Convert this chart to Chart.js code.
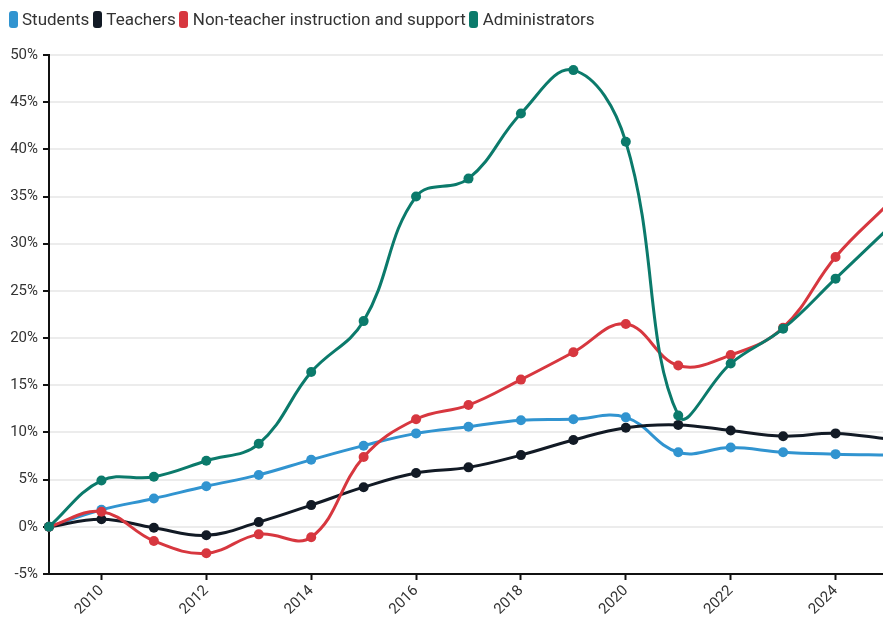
<!DOCTYPE html>
<html>
<head>
<meta charset="utf-8">
<script src="https://cdn.jsdelivr.net/npm/chart.js@4"></script>
<style>
    html, body { margin: 0; padding: 0; background: #fff; overflow: hidden; }
    /* the original is cropped a few px before 2025, so the canvas runs past the window */
    #wrap { position: relative; width: 893px; height: 619px; }
    #legend {
        position: absolute; top: 11px; left: 8.5px;
        display: flex; align-items: center;
        font-family: Roboto, sans-serif; font-size: 17px; color: #333;
        white-space: nowrap; line-height: 17px;
    }
    .item { display: flex; align-items: center; margin-right: 3.5px; }
    .box { width: 9px; height: 17px; border-radius: 3px; margin-right: 4.5px; }
</style>
</head>
<body>
<div id="wrap">
    <canvas id="growth-chart"></canvas>
    <div id="legend"></div>
</div>
<script>
// Years and % change since 2009
const years = [2009, 2010, 2011, 2012, 2013, 2014, 2015, 2016, 2017, 2018, 2019, 2020, 2021, 2022, 2023, 2024, 2025];
const students = [0, 1.8, 3.0, 4.3, 5.5, 7.1, 8.6, 9.9, 10.6, 11.3, 11.4, 11.6, 7.9, 8.4, 7.9, 7.7, 7.6];
const teachers = [0, 0.8, -0.1, -0.9, 0.5, 2.3, 4.2, 5.7, 6.3, 7.6, 9.2, 10.5, 10.8, 10.2, 9.6, 9.9, 9.3];
const nonTeacher = [0, 1.6, -1.5, -2.8, -0.8, -1.1, 7.4, 11.4, 12.9, 15.6, 18.5, 21.5, 17.1, 18.2, 21.1, 28.6, 34.2];
const administrators = [0, 4.9, 5.3, 7.0, 8.8, 16.4, 21.8, 35.0, 36.9, 43.8, 48.4, 40.8, 11.8, 17.3, 21.0, 26.3, 31.6];

const xTicks = [2010, 2012, 2014, 2016, 2018, 2020, 2022, 2024];
const yMin = -5, yMax = 50, yStep = 5;

Chart.defaults.font.family = "Roboto";
Chart.defaults.color = "#333";

function makeSeries(label, values, color, order) {
    return {
        label: label,
        data: years.map((y, i) => ({ x: y, y: values[i] })),
        borderColor: color,
        backgroundColor: color,
        borderWidth: 3,
        pointRadius: 5,
        pointHoverRadius: 5,
        pointBorderWidth: 0,
        tension: 0.4,
        order: order,
        clip: { left: 10, top: 10, bottom: 10, right: 0 }
    };
}

const datasets = [
    makeSeries("Students", students, "#3194d0", 4),
    makeSeries("Teachers", teachers, "#121a25", 3),
    makeSeries("Non-teacher instruction and support", nonTeacher, "#d7373f", 2),
    makeSeries("Administrators", administrators, "#0b7a6b", 1)
];

// html legend, tighter than the built-in one
const legend = document.getElementById("legend");
datasets.forEach(ds => {
    const item = document.createElement("div");
    item.className = "item";
    item.innerHTML = `<span class="box" style="background:${ds.borderColor}"></span><span>${ds.label}</span>`;
    legend.appendChild(item);
});

const noPadding = () => ({ left: 0, top: 0, right: 0, bottom: 0 });

const ctx = document.getElementById("growth-chart").getContext("2d");
new Chart(ctx, {
    type: "line",
    data: { datasets: datasets },
    options: {
        responsive: true,
        maintainAspectRatio: false,
        animation: false,
        layout: { padding: { top: 55, right: 0, left: 0, bottom: 0 } },
        plugins: {
            legend: { display: false },
            tooltip: { enabled: false }
        },
        scales: {
            x: {
                type: "linear",
                min: 2009,
                max: 2025,
                afterBuildTicks: axis => { axis.ticks = xTicks.map(v => ({ value: v })); },
                afterFit: axis => {
                    axis.height = 45;
                    axis.paddingLeft = 0;
                    axis.paddingRight = 0;
                    axis.getPadding = noPadding;
                },
                ticks: {
                    callback: v => String(v),
                    minRotation: 45,
                    maxRotation: 45,
                    padding: 2,
                    font: { size: 15 },
                    color: "#333"
                },
                grid: {
                    drawOnChartArea: false,
                    tickColor: "#111",
                    tickLength: 6,
                    tickWidth: 2
                },
                border: { color: "#111", width: 2 }
            },
            y: {
                min: yMin,
                max: yMax,
                afterFit: axis => { axis.width = 49; },
                ticks: {
                    stepSize: yStep,
                    callback: v => v + "%",
                    padding: 5,
                    font: { size: 15 },
                    color: "#333"
                },
                grid: {
                    color: "#ececec",
                    lineWidth: 2,
                    tickColor: "#111",
                    tickLength: 6,
                    tickWidth: 2
                },
                border: { color: "#111", width: 2 }
            }
        }
    }
});
</script>
</body>
</html>
